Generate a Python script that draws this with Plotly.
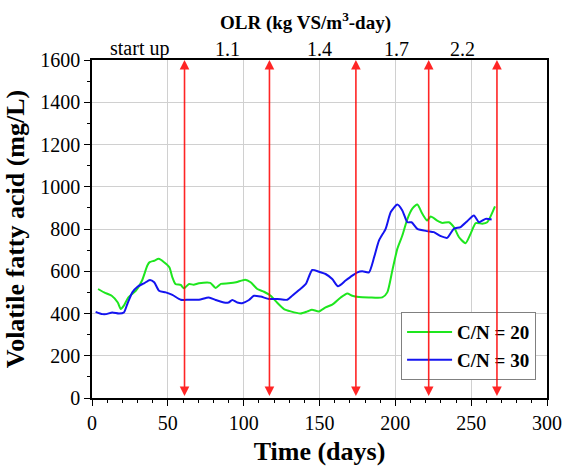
import plotly.graph_objects as go

# C/N = 20 (green)
days_cn20 = [4, 8, 13, 17, 19, 21, 24, 29, 33, 36.5, 38, 41, 44, 47.5, 51, 53, 55, 58.5, 60.6, 64, 67, 70.5,
             78, 81.5, 85, 90, 95, 101, 104.6, 109, 113.4, 117.8, 122, 126.6, 131, 137.5, 142, 145, 149.6,
             154, 158.4, 164, 168.3, 171.6, 176, 182.6, 191.4, 194.7, 198, 201.3, 204.6, 208, 211.2, 214.5,
             217.8, 221, 223.3, 227.6, 231, 235.3, 238.6, 242, 246.3, 249.6, 253, 257.3, 260.6, 265.7]
vfa_cn20 = [516, 500, 484, 452, 421, 437, 476, 508, 556, 627, 643, 650, 659, 643, 619, 571, 540, 535, 519, 540, 536, 543,
            545, 521, 540, 543, 548, 560, 548, 516, 503, 484, 452, 421, 410, 400, 410, 418, 410,
            429, 442, 476, 495, 484, 478, 476, 476, 500, 603, 706, 769, 848, 896, 916,
            872, 840, 859, 840, 829, 832, 809, 761, 733, 777, 828, 825, 832, 907]

# C/N = 30 (blue)
days_cn30 = [2.4, 6.8, 9.4, 13.4, 17.8, 21, 23.3, 26.6, 30, 34.3, 38.2, 41, 44.2, 48.6, 53, 58.5, 64, 70.5, 77,
             81.5, 87, 90, 92.5, 95.8, 99, 103.5, 106.8, 111.2, 116.7, 122.2, 128.7, 132, 136.5, 141, 145.2,
             149.6, 154, 158.4, 162.2, 167.2, 171.6, 175, 178.2, 182.6, 186, 189.2, 193.6, 197, 201.3, 204.6,
             208, 210.7, 214.5, 221, 225.4, 230, 234.2, 238.6, 243, 247.4, 251.8, 255.1, 259.5, 263.5]
vfa_cn30 = [408, 397, 397, 405, 400, 405, 445, 500, 527, 543, 559, 548, 508, 500, 488, 465, 465, 465, 476,
            464, 452, 452, 464, 452, 449, 464, 484, 480, 469, 469, 465, 484, 511, 540, 606,
            598, 587, 563, 529, 556, 579, 595, 600, 595, 666, 745, 801, 880, 916, 888,
            832, 832, 801, 790, 785, 766, 758, 801, 809, 837, 864, 832, 848, 845]

# OLR change days (red arrows) and stage labels
olr_change_days = [61, 117, 174, 222, 267]
olr_label_days = [31, 89.5, 150, 201, 244]
olr_labels = ["start up", "1.1", "1.4", "1.7", "2.2"]

x_ticks = [0, 50, 100, 150, 200, 250, 300]
y_ticks = [0, 200, 400, 600, 800, 1000, 1200, 1400, 1600]

FONT = "'Times New Roman', 'Liberation Serif', 'DejaVu Serif', serif"

fig = go.Figure()
fig.add_trace(go.Scatter(x=days_cn20, y=vfa_cn20, mode="lines", name="<b>C/N = 20</b>",
                         line=dict(color="#1ee61e", width=2, shape="spline", smoothing=0.6)))
fig.add_trace(go.Scatter(x=days_cn30, y=vfa_cn30, mode="lines", name="<b>C/N = 30</b>",
                         line=dict(color="#1414f0", width=2, shape="spline", smoothing=0.6)))

for d in olr_change_days:
    fig.add_annotation(x=d, y=1600, ax=d, ay=0, xref="x", yref="y", axref="x", ayref="y",
                       showarrow=True, arrowhead=2, arrowside="end+start", arrowsize=1.2,
                       arrowwidth=1.6, arrowcolor="rgba(255,0,0,0.85)", text=" ",
                       font=dict(size=1))

for d, lab in zip(olr_label_days, olr_labels):
    fig.add_annotation(x=d, y=1.0, xref="x", yref="paper", yanchor="bottom", yshift=-2,
                       text=lab, showarrow=False, font=dict(family=FONT, size=20, color="black"))

fig.add_annotation(x=0.47, y=1.07, xref="paper", yref="paper", yanchor="bottom",
                   text="<b>OLR (kg VS/m<sup>3</sup>-day)</b>", showarrow=False,
                   font=dict(family=FONT, size=19, color="black"))

fig.update_xaxes(range=[0, 300], tickvals=x_ticks, showgrid=True, gridcolor="#d0d0d0", gridwidth=1,
                 showline=True, linecolor="black", linewidth=1.5, mirror=True, automargin=False,
                 ticks="outside", ticklen=6, tickcolor="black", tickwidth=1.2,
                 minor=dict(dtick=10, ticks="outside", ticklen=3, tickcolor="black", showgrid=False),
                 zeroline=False, tickfont=dict(family=FONT, size=20, color="black"),
                 title=dict(text="<b>Time (days)</b>", font=dict(family=FONT, size=26, color="black"), standoff=14))
fig.update_yaxes(range=[0, 1600], tickvals=y_ticks, showgrid=True, gridcolor="#d0d0d0", gridwidth=1,
                 showline=True, linecolor="black", linewidth=1.5, mirror=True, automargin=False,
                 ticks="outside", ticklen=6, tickcolor="black", tickwidth=1.2,
                 minor=dict(dtick=100, ticks="outside", ticklen=3, tickcolor="black", showgrid=False),
                 zeroline=False, tickfont=dict(family=FONT, size=20, color="black"),
                 title=dict(text="<b>Volatile fatty acid (mg/L)</b>", font=dict(family=FONT, size=26, color="black"), standoff=8))

fig.update_layout(width=563, height=466, margin=dict(l=92, r=16, t=60, b=68),
                  font=dict(family=FONT, color="black"),
                  plot_bgcolor="white", paper_bgcolor="white",
                  legend=dict(x=0.976, y=0.053, xanchor="right", yanchor="bottom",
                              bordercolor="#808080", borderwidth=1, bgcolor="white", itemwidth=45,
                              font=dict(family=FONT, size=19, color="black"), tracegroupgap=0))

fig.write_html("out.html", config={"displayModeBar": False},
               post_script="document.body.style.margin='0';document.body.style.overflow='hidden';")
